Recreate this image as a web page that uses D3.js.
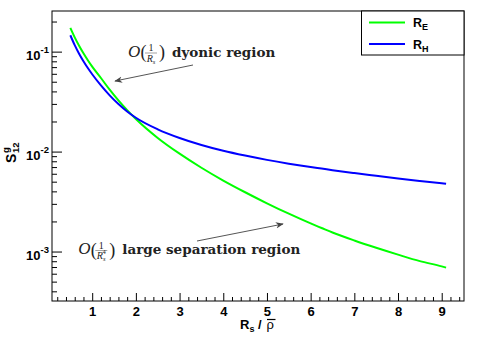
<!DOCTYPE html>
<html><head><meta charset="utf-8">
<script src="https://cdn.jsdelivr.net/npm/d3@7"></script>
<style>body{margin:0;background:#fff}svg{display:block}</style>
</head><body>
<svg id="c" width="479" height="339"></svg>
<script>
const xs = [0.5,0.6,0.7,0.8,0.9,1.0,1.2,1.4,1.6,1.8,2.0,2.5,3.0,3.5,4.0,4.5,5.0,5.5,6.0,6.25,6.5,7.0,7.5,8.0,8.5,9.0,9.1];
const RE = [0.1726,0.1387,0.1143,0.0962,0.0820,0.0708,0.0545,0.0416,0.0325,0.0260,0.0212,0.0137,0.00953,0.00689,0.00513,0.00392,0.00304,0.00239,0.00191,0.00172,0.00155,0.00129,0.00109,0.000931,0.000802,0.00071,0.00069];
const RH = [0.1459,0.1161,0.0953,0.0802,0.0685,0.0594,0.0459,0.0365,0.0299,0.0252,0.0218,0.0167,0.01368,0.01164,0.01019,0.00912,0.00826,0.00757,0.00700,0.00676,0.00652,0.00610,0.00573,0.00538,0.00508,0.00481,0.00476];
const xTicks = [1,2,3,4,5,6,7,8,9];
const yTicks = [1e-3,1e-2,1e-1];
const yTickExp = ["-3","-2","-1"];
const seriesNames = ["E","H"];
const seriesColors = ["#00ff00","#0000ff"];

const svg = d3.select("#c");
const L=52,R=464,T=11,B=301;
const x = d3.scaleLinear().domain([0.08,9.51]).range([L,R]);
const y = d3.scaleLog().domain([3.2e-4,0.255]).range([B,T]);
const sans = "'Liberation Sans', Arial, sans-serif";
const serif = "'DejaVu Serif', serif";
const serifR = "'Liberation Serif', serif";

// minor x ticks
const xMinor = d3.range(1,48).map(i=>i*0.2).filter(v=>v<9.5 && Math.abs(v-Math.round(v))>1e-6);
svg.append("g").attr("transform",`translate(0,${B})`)
  .call(d3.axisBottom(x).tickValues(xMinor).tickSize(-4).tickFormat(""))
  .call(g=>g.select(".domain").remove());
const gx = svg.append("g").attr("transform",`translate(0,${B})`)
  .call(d3.axisBottom(x).tickValues(xTicks).tickSize(-8).tickPadding(0).tickFormat(d3.format("d")))
  .call(g=>g.select(".domain").remove());
gx.selectAll("text").attr("y",15).attr("dy",0).style("font-family",sans).style("font-weight","bold").style("font-size","13px").attr("fill","#000");

// minor y ticks
const yMinor = [];
[-4,-3,-2,-1].forEach(e=>{for(let k=2;k<=9;k++){const v=k*Math.pow(10,e); if(v>3.2e-4&&v<0.255) yMinor.push(v);}});
svg.append("g").attr("transform",`translate(${L},0)`)
  .call(d3.axisLeft(y).tickValues(yMinor).tickSize(-5).tickFormat(""))
  .call(g=>g.select(".domain").remove());
const gy = svg.append("g").attr("transform",`translate(${L},0)`)
  .call(d3.axisLeft(y).tickValues(yTicks).tickSize(-10).tickFormat(""))
  .call(g=>g.select(".domain").remove());
gy.selectAll(".tick").each(function(d,i){
  const t = d3.select(this).select("text").attr("x",-3).attr("dy",0).attr("y",8)
    .attr("text-anchor","end").attr("fill","#000")
    .style("font-family",sans).style("font-weight","bold").style("font-size","13px");
  t.append("tspan").text("10");
  t.append("tspan").attr("dy",-7).style("font-size","9.5px").text(yTickExp[i]);
});
svg.selectAll(".tick line").attr("stroke","#000");

// curves
const line = d3.line().x((d,i)=>x(xs[i])).y(d=>y(d)).curve(d3.curveMonotoneX);
[RE,RH].forEach((s,i)=>{
  svg.append("path").datum(s).attr("d",line).attr("fill","none")
    .attr("stroke",seriesColors[i]).attr("stroke-width",2);
});

// frame
svg.append("rect").attr("x",L).attr("y",T).attr("width",R-L).attr("height",B-T)
  .attr("fill","none").attr("stroke","#000").attr("stroke-width",1);

// legend
const lg = svg.append("g");
lg.append("rect").attr("x",361.5).attr("y",T).attr("width",R-361.5).attr("height",44)
  .attr("fill","#fff").attr("stroke","#000");
seriesNames.forEach((n,i)=>{
  const yy = 22.5 + i*21.5;
  lg.append("line").attr("x1",369).attr("x2",405).attr("y1",yy).attr("y2",yy)
    .attr("stroke",seriesColors[i]).attr("stroke-width",2);
  const t = lg.append("text").attr("x",413).attr("y",yy+4.5)
    .style("font-family",sans).style("font-weight","bold").style("font-size","12.5px");
  t.append("tspan").text("R");
  t.append("tspan").attr("dy",3).style("font-size","9px").text(n);
});

// axis titles
const xt = svg.append("text").attr("x",240).attr("y",329)
  .style("font-family",sans).style("font-weight","bold").style("font-size","13px");
xt.append("tspan").text("R");
xt.append("tspan").attr("dy",3).style("font-size","9px").text("s");
xt.append("tspan").attr("dy",-3).text(" /");
svg.append("text").attr("x",266.5).attr("y",329).style("font-family",sans)
  .style("font-size","13px").text("\u03C1");
svg.append("line").attr("x1",267).attr("x2",275.5).attr("y1",319.5).attr("y2",319.5)
  .attr("stroke","#000").attr("stroke-width",1.2);

const yt = svg.append("g").attr("transform","translate(16,163) rotate(-90)")
  .style("font-family",sans).style("font-weight","bold");
yt.append("text").attr("x",0).attr("y",0).style("font-size","14px").text("S");
yt.append("text").attr("x",10).attr("y",3).style("font-size","9.5px").text("12");
yt.append("text").attr("x",10).attr("y",-7).style("font-size","9.5px").text("g");

// annotations
svg.append("defs").append("marker").attr("id","ah").attr("viewBox","0 0 10 10")
  .attr("refX",9).attr("refY",5).attr("markerWidth",8).attr("markerHeight",8)
  .attr("markerUnits","userSpaceOnUse").attr("orient","auto")
  .append("path").attr("d","M0,1 L10,5 L0,9 L3,5 Z").attr("fill","#444");

function annot(X, Y, sup4, label){
  const g = svg.append("g").attr("fill","#222");
  g.append("text").attr("x",X).attr("y",Y).style("font-family",serifR).style("font-style","italic").style("font-size","17px").text("O");
  g.append("text").attr("x",X+12.5).attr("y",Y+1.5).style("font-family",serifR).style("font-size","18px").text("(");
  const fx = X+23;
  g.append("text").attr("x",fx).attr("y",Y-5.5).attr("text-anchor","middle").style("font-family",serifR).style("font-size","10px").text("1");
  g.append("line").attr("x1",fx-6).attr("x2",fx+6).attr("y1",Y-3.5).attr("y2",Y-3.5).attr("stroke","#666").attr("stroke-width",0.6);
  const d = g.append("text").attr("x",fx).attr("y",Y+5).attr("text-anchor","middle").style("font-family",serifR).style("font-size","10px");
  d.append("tspan").style("font-style","italic").text("R");
  d.append("tspan").attr("dy",2).style("font-size","6.5px").style("font-style","italic").text("s");
  if(sup4) d.append("tspan").attr("dy",-7).attr("dx",-3).style("font-size","6.5px").text("4");
  g.append("text").attr("x",X+31).attr("y",Y+1.5).style("font-family",serifR).style("font-size","18px").text(")");
  g.append("text").attr("x",X+44).attr("y",Y).style("font-family",serif).style("font-weight","bold").style("font-size","13.5px").text(label);
}
annot(128, 56.5, false, "dyonic region");
annot(78.3, 254, true, "large separation region");

svg.append("line").attr("x1",193).attr("y1",65).attr("x2",115).attr("y2",81)
  .attr("stroke","#555").attr("stroke-width",1).attr("marker-end","url(#ah)");
svg.append("line").attr("x1",197).attr("y1",241).attr("x2",283).attr("y2",224)
  .attr("stroke","#555").attr("stroke-width",1).attr("marker-end","url(#ah)");
</script>
</body></html>
